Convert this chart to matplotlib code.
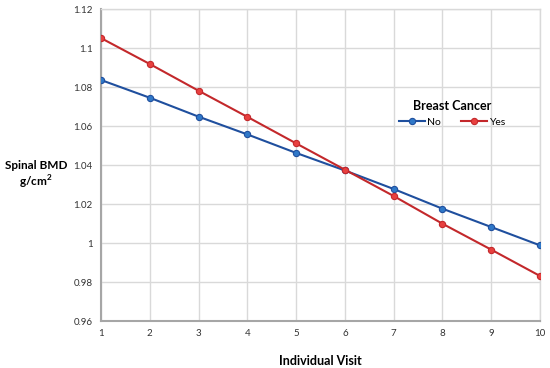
import matplotlib

matplotlib.use("Agg")
import matplotlib.pyplot as plt

visits = [1, 2, 3, 4, 5, 6, 7, 8, 9, 10]
bmd_no = [1.0836, 1.0745, 1.0648, 1.0557, 1.0462, 1.0372, 1.0277, 1.0176, 1.0082, 0.9988]
bmd_yes = [1.1051, 1.0918, 1.0781, 1.0647, 1.0511, 1.0376, 1.0241, 1.0099, 0.9966, 0.9831]
y_ticks = [0.96, 0.98, 1.0, 1.02, 1.04, 1.06, 1.08, 1.1, 1.12]
y_tick_labels = ["0.96", "0.98", "1", "1.02", "1.04", "1.06", "1.08", "1.1", "1.12"]

plt.rcParams["font.family"] = ["Lato", "DejaVu Sans"]
plt.rcParams["mathtext.fontset"] = "custom"
plt.rcParams["mathtext.bf"] = "Lato:bold"
plt.rcParams["mathtext.rm"] = "Lato"

fig = plt.figure(figsize=(5.5, 3.68), dpi=100)
ax = fig.add_axes([0.1836, 0.1277, 0.7982, 0.8478])

ax.plot(visits, bmd_no, color="#1f4f9e", linewidth=1.5, marker="o", markersize=4.5,
        markerfacecolor="#2f78c8", markeredgecolor="#1f4f9e", markeredgewidth=0.8,
        label="No", zorder=3)
ax.plot(visits, bmd_yes, color="#c3282b", linewidth=1.5, marker="o", markersize=4.5,
        markerfacecolor="#e8403f", markeredgecolor="#c3282b", markeredgewidth=0.8,
        label="Yes", zorder=3)

ax.set_xlim(1, 10)
ax.set_ylim(0.96, 1.12)
ax.set_xticks(visits)
ax.set_yticks(y_ticks, y_tick_labels)
ax.tick_params(axis="both", length=0, labelsize=7, colors="#333333", pad=6)
ax.grid(True, color="#d9d9d9", linewidth=1.0)
ax.set_axisbelow(True)

for side in ["top", "right"]:
    ax.spines[side].set_color("#d9d9d9")
    ax.spines[side].set_linewidth(1.0)
for side in ["left", "bottom"]:
    ax.spines[side].set_color("#a6a6a6")
    ax.spines[side].set_linewidth(1.5)

ax.set_xlabel("Individual Visit", fontsize=9, fontweight="bold", labelpad=12)
fig.text(0.066, 0.55, "Spinal BMD", fontsize=8.5, fontweight="bold",
         ha="center", va="center")
fig.text(0.066, 0.505, r"g/cm$^{\mathbf{2}}$", fontsize=8.5, fontweight="bold",
         ha="center", va="center")

legend = ax.legend(title="Breast Cancer", ncol=2, frameon=False, fontsize=7.5,
                   loc="center", bbox_to_anchor=(0.80, 0.665), handlelength=2.5,
                   columnspacing=2.0, handletextpad=0.2)
legend.get_title().set_fontweight("bold")
legend.get_title().set_fontsize(9)

fig.savefig("out.png", dpi=100)
